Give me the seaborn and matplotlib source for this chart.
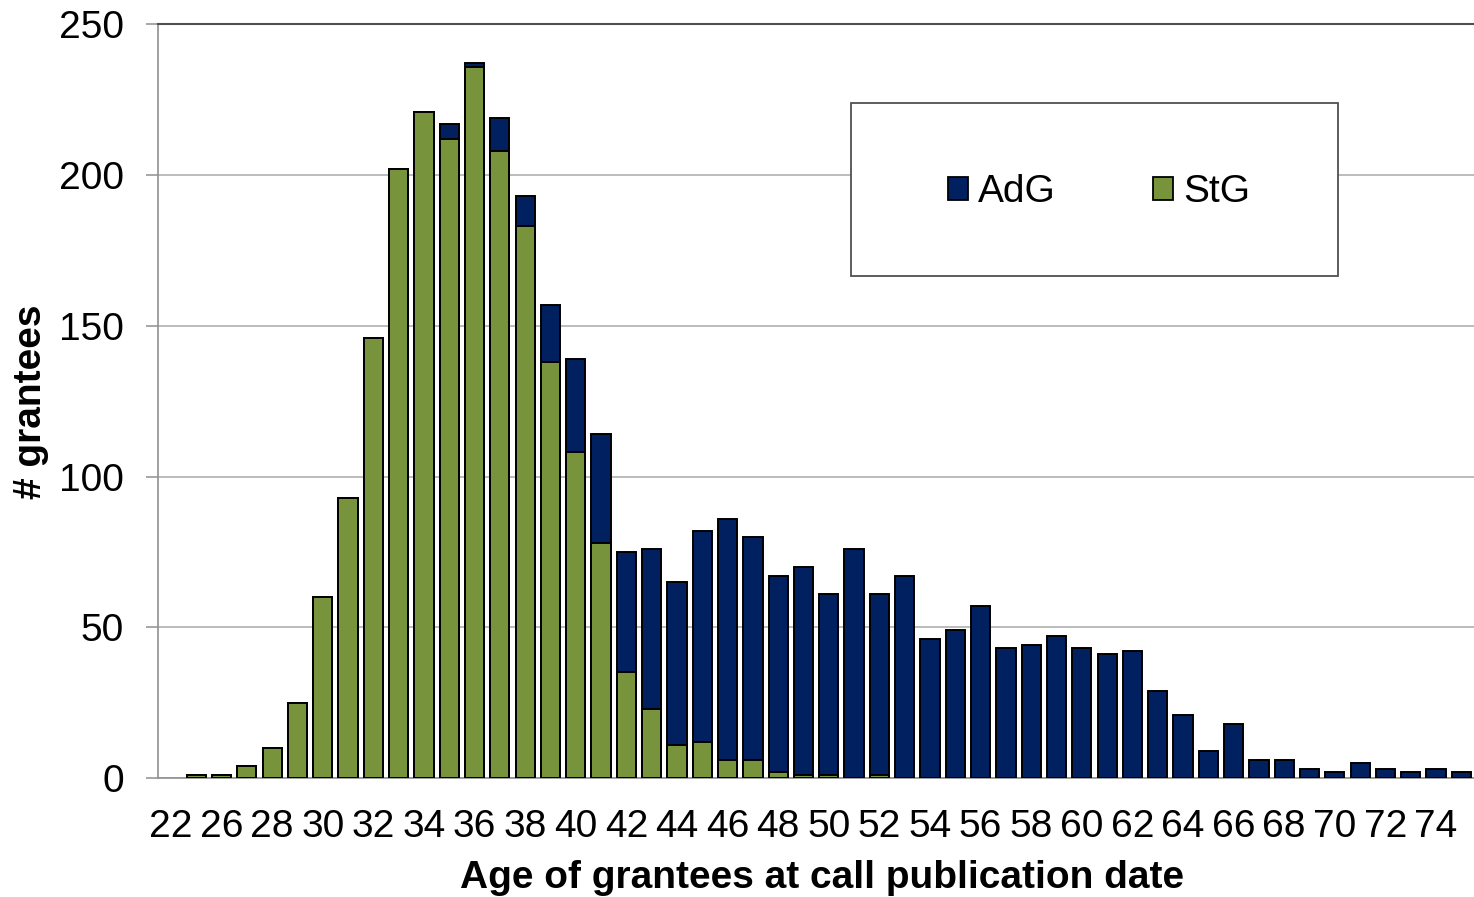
import matplotlib
matplotlib.use("Agg")
import matplotlib.pyplot as plt
import seaborn as sns
import pandas as pd
from matplotlib.patches import Patch, Rectangle

# ---------------- data ----------------
ages = ["22", "25", "26", "27", "28", "29", "30", "31", "32", "33", "34", "35",
        "36", "37", "38", "39", "40", "41", "42", "43", "44", "45", "46", "47",
        "48", "49", "50", "51", "52", "53", "54", "55", "56", "57", "58", "59",
        "60", "61", "62", "63", "64", "65", "66", "67", "68", "69", "70", "71",
        "72", "73", "74", "75"]
stg = [0, 1, 1, 4, 10, 25, 60, 93, 146, 202, 221, 212,
       236, 208, 183, 138, 108, 78, 35, 23, 11, 12, 6, 6,
       2, 1, 1, 0, 1, 0, 0, 0, 0, 0, 0, 0,
       0, 0, 0, 0, 0, 0, 0, 0, 0, 0, 0, 0,
       0, 0, 0, 0]
adg = [0, 0, 0, 0, 0, 0, 0, 0, 0, 0, 0, 5,
       1, 11, 10, 19, 31, 36, 40, 53, 54, 70, 80, 74,
       65, 69, 60, 76, 60, 67, 46, 49, 57, 43, 44, 47,
       43, 41, 42, 29, 21, 9, 18, 6, 6, 3, 2, 5,
       3, 2, 3, 2]
series_names = ["AdG", "StG"]
yticks = [0, 50, 100, 150, 200, 250]
xlabel = "Age of grantees at call publication date"
ylabel = "# grantees"

df = pd.DataFrame({"age": ages, "StG": stg, "AdG": adg})
df["total"] = df["StG"] + df["AdG"]

# ---------------- style ----------------
sns.set_theme(style="white")
plt.rcParams["font.family"] = ["Liberation Sans", "DejaVu Sans"]
plt.rcParams["text.color"] = "black"
plt.rcParams["xtick.labelcolor"] = "black"
plt.rcParams["ytick.labelcolor"] = "black"

NAVY = "#002060"
GREEN = "#77933C"
W, H = 1474, 897
fig = plt.figure(figsize=(W / 100, H / 100), dpi=100)
fig.patch.set_facecolor("white")

left, bottom_px, top_px = 158.3, 778, 24.3
ax = fig.add_axes([left / W, 1 - bottom_px / H, (W - left) / W, (bottom_px - top_px) / H])

bw = 0.76
sns.barplot(data=df, x="age", y="total", order=ages, color=NAVY, saturation=1,
            width=bw, edgecolor="black", linewidth=1.4, ax=ax, zorder=3)
sns.barplot(data=df, x="age", y="StG", order=ages, color=GREEN, saturation=1,
            width=bw, edgecolor="black", linewidth=1.4, ax=ax, zorder=4)
for p in ax.patches:
    if p.get_height() == 0:
        p.set_linewidth(0)

ax.set_ylim(0, 250)
ax.set_xlim(-0.5, -0.5 + (W - left) / 25.52)
ax.set_yticks(yticks)
ax.set_yticklabels([str(t) for t in yticks], fontsize=28, color="black")
ax.set_xticks(range(0, len(ages), 2))
ax.set_xticklabels(ages[0::2], fontsize=28, color="black")
ax.set_xticks([i - 0.5 for i in range(len(ages) + 1)], minor=True)
ax.tick_params(axis="x", which="major", length=0, pad=22)
ax.tick_params(axis="x", which="minor", length=8.6, width=1.1, color="#a0a0a0", direction="out")
ax.tick_params(axis="y", which="major", length=8.6, width=1.1, color="#909090",
               pad=16, left=True)
ax.set_xlabel("")
ax.set_ylabel("")

ax.yaxis.grid(True, color="#b0b0b0", linewidth=1.2)
ax.set_axisbelow(True)
for s in ["left", "bottom"]:
    ax.spines[s].set_visible(True)
    ax.spines[s].set_color("#909090")
    ax.spines[s].set_linewidth(1.2)
ax.spines["top"].set_visible(True)
ax.spines["top"].set_color("#505050")
ax.spines["top"].set_linewidth(1.5)
ax.spines["right"].set_visible(False)

# axis titles
fig.text(822 / W, 1 - 888 / H, xlabel, ha="center", va="baseline",
         fontsize=28, fontweight="bold", color="black")
fig.text(31 / W, 1 - 402 / H, ylabel, ha="center", va="center", rotation=90,
         fontsize=28, fontweight="bold", color="black")

# legend with its box
box = Rectangle((851 / W, 1 - 276 / H), 487 / W, 173 / H, transform=fig.transFigure,
                facecolor="white", edgecolor="#505050", linewidth=1.3, zorder=5)
fig.patches.append(box)
handles = [Patch(facecolor=NAVY, edgecolor="black", linewidth=1.3),
           Patch(facecolor=GREEN, edgecolor="black", linewidth=1.3)]
leg = fig.legend(handles, series_names, ncol=2, loc="center",
                 bbox_to_anchor=(1099 / W, 1 - 192 / H), bbox_transform=fig.transFigure,
                 frameon=False, fontsize=28, handlelength=0.52, handleheight=0.52,
                 handletextpad=0.25, columnspacing=2.5, borderpad=0, labelcolor="black")
leg.set_zorder(6)

fig.savefig("out.png", dpi=100, facecolor="white")
